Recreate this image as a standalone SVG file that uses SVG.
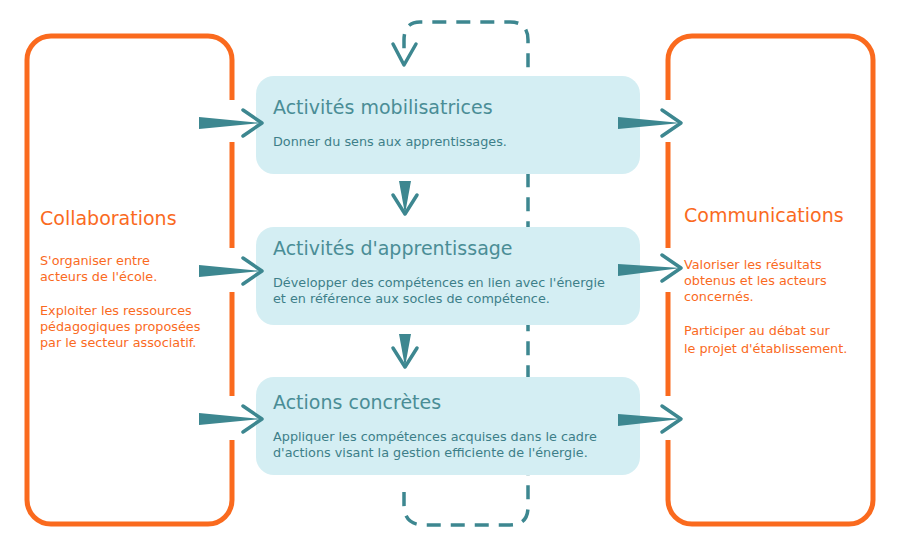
<svg xmlns="http://www.w3.org/2000/svg" width="900" height="550" viewBox="0 0 900 550">
<style>
.frame{fill:none;stroke:#fa6a1e;stroke-width:5}
.gap{stroke:#fff;stroke-width:9}
.box{fill:#d4eef3}
.t{font-family:"DejaVu Sans",sans-serif;font-size:19px;fill:#4a8d96}
.b{font-family:"DejaVu Sans",sans-serif;font-size:12.8px;fill:#3d7f89}
.ot{font-family:"DejaVu Sans",sans-serif;font-size:19px;fill:#fa6a1e}
.ob{font-family:"DejaVu Sans",sans-serif;font-size:12.8px;fill:#fa6a1e}
.w{fill:#3d8790}
.ch{fill:none;stroke:#3d8790;stroke-width:3.5;stroke-linecap:round;stroke-linejoin:round}
.dash{fill:none;stroke:#3d8790;stroke-width:3.5;stroke-dasharray:14 10}
</style>
<g id="connectors">
<path class="dash" d="M404,492 V505 Q404,525 424,525 H510 Q528,525 528,507 V40 Q528,22 510,22 H420 Q404,22 404,40 V55"/>
</g>
<g id="collaborations">
<rect class="frame" x="27" y="36" width="205" height="488" rx="24"/>
<line class="gap" x1="232" y1="100" x2="232" y2="142"/>
<line class="gap" x1="232" y1="248" x2="232" y2="292"/>
<line class="gap" x1="232" y1="396" x2="232" y2="440"/>
<text class="ot" x="40" y="225">Collaborations</text>
<text class="ob" x="40" y="265">S'organiser entre</text>
<text class="ob" x="40" y="281">acteurs de l'école.</text>
<text class="ob" x="40" y="315">Exploiter les ressources</text>
<text class="ob" x="40" y="331">pédagogiques proposées</text>
<text class="ob" x="40" y="347">par le secteur associatif.</text>
</g>
<g id="communications">
<rect class="frame" x="668" y="36" width="205" height="488" rx="24"/>
<line class="gap" x1="668" y1="100" x2="668" y2="142"/>
<line class="gap" x1="668" y1="248" x2="668" y2="292"/>
<line class="gap" x1="668" y1="396" x2="668" y2="440"/>
<text class="ot" x="684" y="222">Communications</text>
<text class="ob" x="684" y="269">Valoriser les résultats</text>
<text class="ob" x="684" y="285">obtenus et les acteurs</text>
<text class="ob" x="684" y="301">concernés.</text>
<text class="ob" x="684" y="335">Participer au débat sur</text>
<text class="ob" x="684" y="353">le projet d'établissement.</text>
</g>
<g id="mobilisatrices">
<rect class="box" x="256" y="76" width="384" height="98" rx="18"/>
<text class="t" x="273" y="114">Activités mobilisatrices</text>
<text class="b" x="273" y="146">Donner du sens aux apprentissages.</text>
</g>
<g id="apprentissage">
<rect class="box" x="256" y="227" width="384" height="98" rx="18"/>
<text class="t" x="273" y="255">Activités d'apprentissage</text>
<text class="b" x="273" y="287">Développer des compétences en lien avec l'énergie</text>
<text class="b" x="273" y="303">et en référence aux socles de compétence.</text>
</g>
<g id="actions">
<rect class="box" x="256" y="377" width="384" height="98" rx="18"/>
<text class="t" x="273" y="409">Actions concrètes</text>
<text class="b" x="273" y="441">Appliquer les compétences acquises dans le cadre</text>
<text class="b" x="273" y="457">d'actions visant la gestion efficiente de l'énergie.</text>
</g>
<g id="arrows">
<polygon class="w" points="199,117 199,129 262,123"/><polyline class="ch" points="243,110 262,123 243,136"/>
<polygon class="w" points="199,265 199,277 262,271"/><polyline class="ch" points="243,258 262,271 243,284"/>
<polygon class="w" points="199,413 199,425 262,419"/><polyline class="ch" points="243,406 262,419 243,432"/>
<polygon class="w" points="618,117 618,129 681,123"/><polyline class="ch" points="662,110 681,123 662,136"/>
<polygon class="w" points="618,264 618,276 681,268"/><polyline class="ch" points="662,255 681,268 662,281"/>
<polygon class="w" points="618,414 618,426 681,419"/><polyline class="ch" points="662,406 681,419 662,432"/>
<polygon class="w" points="399,181 411,181 405,214"/><polyline class="ch" points="393,195 405,214 417,195"/>
<polygon class="w" points="399,334 411,334 405,367"/><polyline class="ch" points="393,348 405,367 417,348"/>
<polyline class="ch" points="393,44 404,65 416,44"/>
</g>
</svg>
